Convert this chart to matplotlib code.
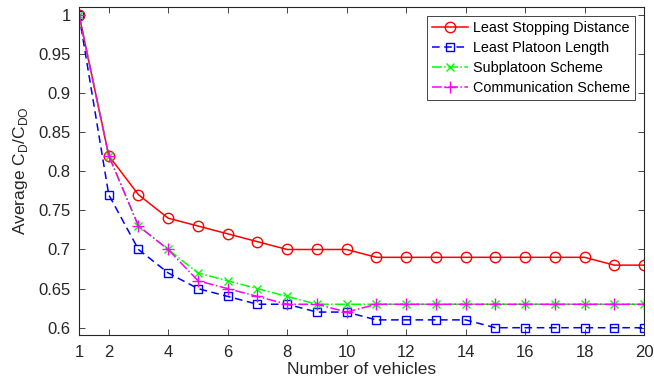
import matplotlib
matplotlib.use("Agg")
import matplotlib.pyplot as plt

plt.rcParams['font.family'] = ['Liberation Sans', 'DejaVu Sans']

vehicles = list(range(1, 21))
least_stopping = [1.00, 0.82, 0.77, 0.74, 0.73, 0.72, 0.71, 0.70, 0.70, 0.70,
                  0.69, 0.69, 0.69, 0.69, 0.69, 0.69, 0.69, 0.69, 0.68, 0.68]
least_platoon = [1.00, 0.77, 0.70, 0.67, 0.65, 0.64, 0.63, 0.63, 0.62, 0.62,
                 0.61, 0.61, 0.61, 0.61, 0.60, 0.60, 0.60, 0.60, 0.60, 0.60]
subplatoon = [1.00, 0.82, 0.73, 0.70, 0.67, 0.66, 0.65, 0.64, 0.63, 0.63,
              0.63, 0.63, 0.63, 0.63, 0.63, 0.63, 0.63, 0.63, 0.63, 0.63]
communication = [1.00, 0.82, 0.73, 0.70, 0.66, 0.65, 0.64, 0.63, 0.63, 0.62,
                 0.63, 0.63, 0.63, 0.63, 0.63, 0.63, 0.63, 0.63, 0.63, 0.63]
xticks = [1, 2, 4, 6, 8, 10, 12, 14, 16, 18, 20]
yticks = [0.6, 0.65, 0.7, 0.75, 0.8, 0.85, 0.9, 0.95, 1.0]
ytick_labels = ['0.6', '0.65', '0.7', '0.75', '0.8', '0.85', '0.9', '0.95', '1']

fig = plt.figure(figsize=(6.54, 3.85), dpi=100)
ax = fig.add_axes([0.1208, 0.1299, 0.8639, 0.852])

ax.plot(vehicles, least_stopping, '-o', color='#ff0000', mfc='none', ms=7.5, mew=1.0, lw=1.1,
        label='Least Stopping Distance')
ax.plot(vehicles, least_platoon, '--s', color='#0000ff', mfc='none', ms=6, mew=1.0, lw=1.1,
        dashes=(5, 3), label='Least Platoon Length')
ax.plot(vehicles, subplatoon, '-.x', color='#00ff00', ms=6, mew=1.0, lw=1.1,
        label='Subplatoon Scheme')
ax.plot(vehicles, communication, '-.+', color='#ff00ff', ms=8, mew=1.0, lw=1.1,
        label='Communication Scheme')

ax.set_xlim(1, 20)
ax.set_ylim(0.5907, 1.01)
ax.set_xticks(xticks)
ax.set_yticks(yticks)
ax.set_yticklabels(ytick_labels)
ax.tick_params(direction='in', top=True, right=True, labelsize=12, colors='#262626',
               length=4, width=0.6)
ax.tick_params(axis='x', pad=7)
ax.tick_params(axis='y', pad=6)
for s in ax.spines.values():
    s.set_color('#262626')
    s.set_linewidth(0.8)

ax.set_xlabel('Number of vehicles', fontsize=12.5, color='#262626', labelpad=2)
ax.set_ylabel('Average C$_\\mathregular{D}$/C$_\\mathregular{DO}$', fontsize=12.5,
              color='#262626', labelpad=6)

leg = ax.legend(loc='upper right', fontsize=10.4, fancybox=False, edgecolor='#262626',
                framealpha=1, borderaxespad=0.6, handlelength=2.5, handletextpad=0.35,
                labelspacing=0.42, borderpad=0.35)
leg.get_frame().set_linewidth(0.6)

fig.savefig('out.png', dpi=100)
